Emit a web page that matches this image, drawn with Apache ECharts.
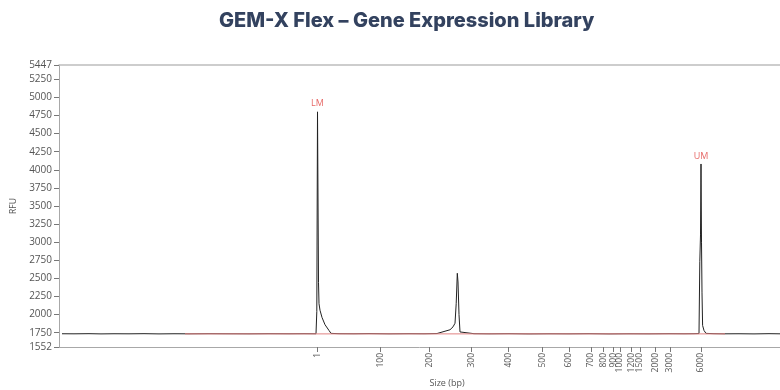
<!DOCTYPE html>
<html><head><meta charset="utf-8">
<script src="https://cdn.jsdelivr.net/npm/echarts@6/dist/echarts.min.js"></script>
<style>html,body{margin:0;padding:0;background:#fff}#c{width:780px;height:390px}</style>
</head><body><div id="c"></div>
<script>
// Migration position (arbitrary time units) of ladder sizes
const ladderSizes = ['1','100','200','300','400','500','600','700','800','900','1000','1200','1500','2000','3000','6000'];
const ladderPos   = [25.83,32.17,37.03,41.27,44.93,48.33,51.0,53.2,54.43,55.43,56.1,57.27,58.1,59.67,61.1,64.2];
const yTicks = [1552,1750,2000,2250,2500,2750,3000,3250,3500,3750,4000,4250,4500,4750,5000,5250,5447];
// Electropherogram trace
const traceT = [0.3,1.5,3,4.2,5.5,7,8.5,10,11.5,13,15,17,19,21,23,24.5,25.7,25.78,25.85,25.95,26.0,26.1,26.3,26.6,27.0,27.2,28,29.5,31,33,35,36.5,37.8,38.6,39.1,39.4,39.6,39.72,39.83,39.9,40.0,40.1,40.2,41.5,43,45,47,49,51,53,55,57,59,61,62.5,63.5,64.0,64.08,64.15,64.2,64.25,64.3,64.36,64.5,64.7,65.5,66.5,68,69.5,71,72.1];
const traceV = [1735,1734,1736,1733,1735,1734,1736,1733,1735,1734,1736,1735,1734,1736,1735,1736,1735,2040,4800,2440,2150,2060,1960,1860,1780,1740,1736,1735,1737,1734,1736,1735,1738,1770,1790,1830,1880,2150,2570,2450,2000,1760,1735,1736,1734,1736,1733,1735,1734,1736,1733,1735,1734,1736,1735,1736,1738,2730,3100,4080,3000,2300,1850,1780,1740,1736,1734,1735,1733,1736,1734];
// Fitted baseline
const baseT = [12.6,66.6];
const baseV = [1733,1733];
// Marker peaks
const markerNames = ['LM','UM'];
const markerT = [25.85,64.2];
const markerV = [4800,4080];

const chart = echarts.init(document.getElementById('c'));
const axisGray = '#a8a8a8';
const txt = '#555';
chart.setOption({
  animation:false,
  title:[
    {text:'GEM-X Flex – Gene Expression Library',left:214,top:6,
     textStyle:{fontFamily:'Inter',fontWeight:800,fontSize:20,color:'#33425f'}},
    {text:'Size (bp)',left:442,top:374,textAlign:'center',
     textStyle:{fontFamily:'Open Sans',fontWeight:'normal',fontSize:9,color:'#555'}}
  ],
  grid:{left:59,right:0,top:65,bottom:43},
  xAxis:[{
    type:'value',min:0,max:72.1,
    splitLine:{show:false},
    axisLine:{lineStyle:{color:axisGray}},
    axisTick:{customValues:ladderPos,length:5,lineStyle:{color:'#777'}},
    axisLabel:{customValues:ladderPos,rotate:90,fontSize:8.5,color:txt,fontFamily:'Open Sans',margin:6,
      formatter:function(v){const i=ladderPos.indexOf(v);return i>=0?ladderSizes[i]:'';}}
  },{
    type:'value',position:'top',min:0,max:72.1,
    axisLine:{show:true,lineStyle:{color:'#bdbdbd',width:1.5}},
    axisTick:{show:false},axisLabel:{show:false},splitLine:{show:false}
  }],
  yAxis:{
    type:'value',min:1552,max:5447,
    name:'RFU',nameLocation:'middle',nameGap:33,
    nameTextStyle:{fontSize:8.5,color:txt,fontFamily:'Open Sans'},
    splitLine:{show:false},
    axisLine:{show:true,lineStyle:{color:axisGray}},
    axisTick:{customValues:yTicks,length:5,lineStyle:{color:'#777'}},
    axisLabel:{customValues:yTicks,fontSize:10,color:txt,fontFamily:'Open Sans',margin:7,
      formatter:function(v){return String(v);}}
  },
  series:[
    {type:'line',data:traceT.map((t,i)=>[t,traceV[i]]),symbol:'none',
     lineStyle:{color:'#222',width:1},z:2},
    {type:'line',data:baseT.map((t,i)=>[t,baseV[i]]),symbol:'none',
     lineStyle:{color:'#e08080',width:1},z:3},
    {type:'scatter',data:markerT.map((t,i)=>({value:[t,markerV[i]],name:markerNames[i]})),
     symbolSize:1,itemStyle:{color:'rgba(0,0,0,0)'},
     label:{show:true,position:'top',distance:3,formatter:'{b}',color:'#e0413e',fontSize:9,fontFamily:'Open Sans'},z:4}
  ]
});
</script></body></html>
